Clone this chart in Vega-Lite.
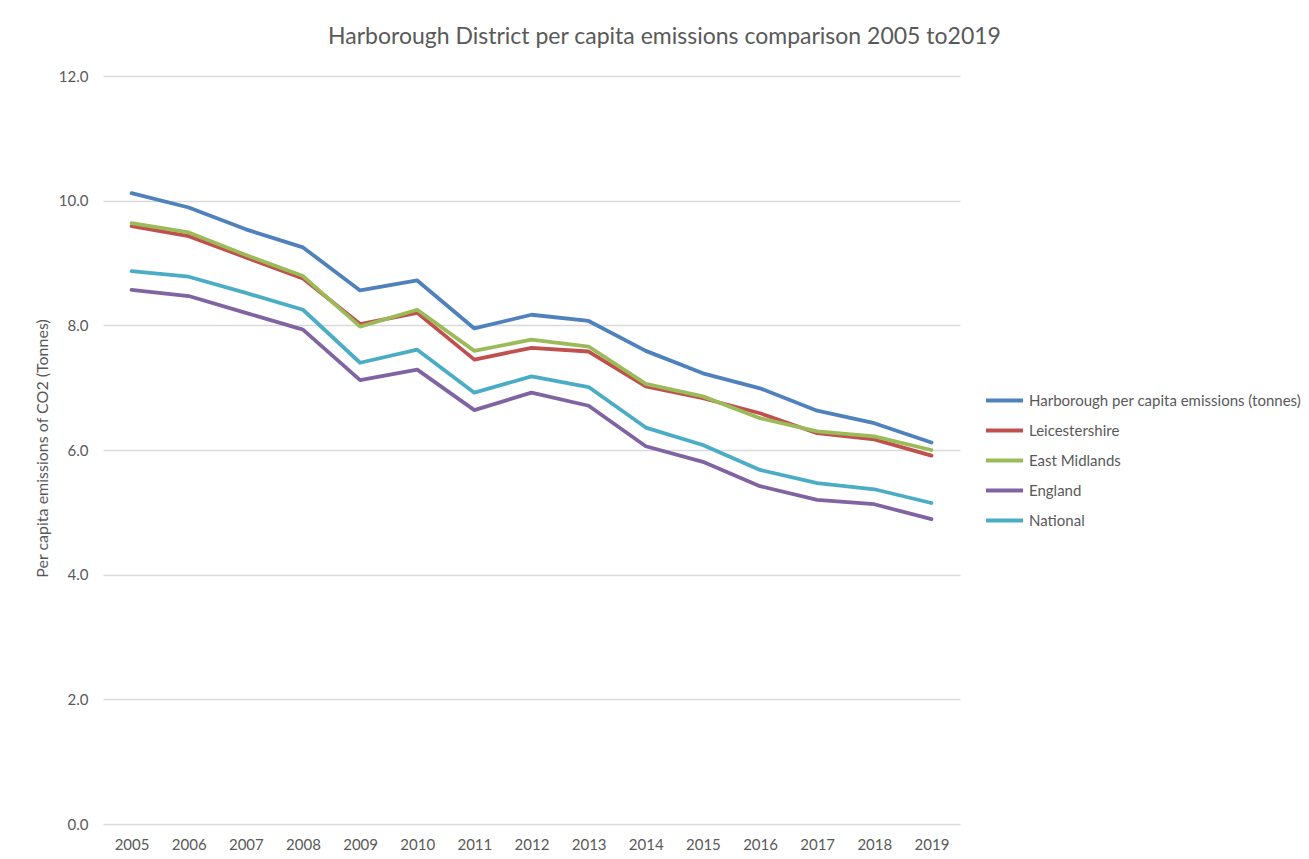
{
  "$schema": "https://vega.github.io/schema/vega-lite/v6.json",
  "width": 857,
  "height": 748,
  "autosize": "none",
  "padding": {"left": 103, "top": 76, "right": 349, "bottom": 35},
  "background": "white",
  "title": {
    "text": "Harborough District per capita emissions comparison 2005 to2019",
    "frame": "group",
    "anchor": "middle",
    "fontSize": 23,
    "fontWeight": "normal",
    "font": "Lato",
    "color": "#595959",
    "offset": 20,
    "dx": 133
  },
  "data": {"values": [
    {"year": "2005", "series": "Harborough per capita emissions (tonnes)", "value": 10.12},
    {"year": "2006", "series": "Harborough per capita emissions (tonnes)", "value": 9.89},
    {"year": "2007", "series": "Harborough per capita emissions (tonnes)", "value": 9.54},
    {"year": "2008", "series": "Harborough per capita emissions (tonnes)", "value": 9.25},
    {"year": "2009", "series": "Harborough per capita emissions (tonnes)", "value": 8.56},
    {"year": "2010", "series": "Harborough per capita emissions (tonnes)", "value": 8.72},
    {"year": "2011", "series": "Harborough per capita emissions (tonnes)", "value": 7.95},
    {"year": "2012", "series": "Harborough per capita emissions (tonnes)", "value": 8.17},
    {"year": "2013", "series": "Harborough per capita emissions (tonnes)", "value": 8.07},
    {"year": "2014", "series": "Harborough per capita emissions (tonnes)", "value": 7.59},
    {"year": "2015", "series": "Harborough per capita emissions (tonnes)", "value": 7.23},
    {"year": "2016", "series": "Harborough per capita emissions (tonnes)", "value": 6.99},
    {"year": "2017", "series": "Harborough per capita emissions (tonnes)", "value": 6.63},
    {"year": "2018", "series": "Harborough per capita emissions (tonnes)", "value": 6.43},
    {"year": "2019", "series": "Harborough per capita emissions (tonnes)", "value": 6.12},
    {"year": "2005", "series": "Leicestershire", "value": 9.59},
    {"year": "2006", "series": "Leicestershire", "value": 9.43},
    {"year": "2007", "series": "Leicestershire", "value": 9.09},
    {"year": "2008", "series": "Leicestershire", "value": 8.75},
    {"year": "2009", "series": "Leicestershire", "value": 8.02},
    {"year": "2010", "series": "Leicestershire", "value": 8.20},
    {"year": "2011", "series": "Leicestershire", "value": 7.45},
    {"year": "2012", "series": "Leicestershire", "value": 7.64},
    {"year": "2013", "series": "Leicestershire", "value": 7.58},
    {"year": "2014", "series": "Leicestershire", "value": 7.02},
    {"year": "2015", "series": "Leicestershire", "value": 6.83},
    {"year": "2016", "series": "Leicestershire", "value": 6.59},
    {"year": "2017", "series": "Leicestershire", "value": 6.27},
    {"year": "2018", "series": "Leicestershire", "value": 6.17},
    {"year": "2019", "series": "Leicestershire", "value": 5.91},
    {"year": "2005", "series": "East Midlands", "value": 9.64},
    {"year": "2006", "series": "East Midlands", "value": 9.49},
    {"year": "2007", "series": "East Midlands", "value": 9.13},
    {"year": "2008", "series": "East Midlands", "value": 8.79},
    {"year": "2009", "series": "East Midlands", "value": 7.98},
    {"year": "2010", "series": "East Midlands", "value": 8.25},
    {"year": "2011", "series": "East Midlands", "value": 7.59},
    {"year": "2012", "series": "East Midlands", "value": 7.77},
    {"year": "2013", "series": "East Midlands", "value": 7.66},
    {"year": "2014", "series": "East Midlands", "value": 7.06},
    {"year": "2015", "series": "East Midlands", "value": 6.86},
    {"year": "2016", "series": "East Midlands", "value": 6.51},
    {"year": "2017", "series": "East Midlands", "value": 6.30},
    {"year": "2018", "series": "East Midlands", "value": 6.22},
    {"year": "2019", "series": "East Midlands", "value": 6.00},
    {"year": "2005", "series": "England", "value": 8.57},
    {"year": "2006", "series": "England", "value": 8.47},
    {"year": "2007", "series": "England", "value": 8.20},
    {"year": "2008", "series": "England", "value": 7.93},
    {"year": "2009", "series": "England", "value": 7.12},
    {"year": "2010", "series": "England", "value": 7.29},
    {"year": "2011", "series": "England", "value": 6.64},
    {"year": "2012", "series": "England", "value": 6.92},
    {"year": "2013", "series": "England", "value": 6.71},
    {"year": "2014", "series": "England", "value": 6.06},
    {"year": "2015", "series": "England", "value": 5.81},
    {"year": "2016", "series": "England", "value": 5.42},
    {"year": "2017", "series": "England", "value": 5.20},
    {"year": "2018", "series": "England", "value": 5.13},
    {"year": "2019", "series": "England", "value": 4.89},
    {"year": "2005", "series": "National", "value": 8.87},
    {"year": "2006", "series": "National", "value": 8.78},
    {"year": "2007", "series": "National", "value": 8.52},
    {"year": "2008", "series": "National", "value": 8.25},
    {"year": "2009", "series": "National", "value": 7.40},
    {"year": "2010", "series": "National", "value": 7.61},
    {"year": "2011", "series": "National", "value": 6.92},
    {"year": "2012", "series": "National", "value": 7.18},
    {"year": "2013", "series": "National", "value": 7.01},
    {"year": "2014", "series": "National", "value": 6.36},
    {"year": "2015", "series": "National", "value": 6.08},
    {"year": "2016", "series": "National", "value": 5.68},
    {"year": "2017", "series": "National", "value": 5.47},
    {"year": "2018", "series": "National", "value": 5.37},
    {"year": "2019", "series": "National", "value": 5.15}
  ]},
  "mark": {"type": "line", "strokeWidth": 3.8, "strokeCap": "round", "strokeJoin": "round"},
  "encoding": {
    "x": {
      "field": "year",
      "type": "ordinal",
      "scale": {"type": "point", "padding": 0.5},
      "axis": {
        "title": null,
        "labelAngle": 0,
        "ticks": false,
        "domain": false,
        "grid": false,
        "labelPadding": 13,
        "labelFontSize": 15,
        "labelFont": "Lato",
        "labelColor": "#595959"
      }
    },
    "y": {
      "field": "value",
      "type": "quantitative",
      "scale": {"domain": [0, 12], "nice": false},
      "axis": {
        "title": "Per capita emissions of CO2 (Tonnes)",
        "values": [0, 2, 4, 6, 8, 10, 12],
        "format": ".1f",
        "ticks": false,
        "domain": false,
        "grid": true,
        "gridColor": "#d9d9d9",
        "gridWidth": 1.3,
        "labelPadding": 15,
        "labelFontSize": 15,
        "labelFont": "Lato",
        "labelColor": "#595959",
        "titleFont": "Lato",
        "titleFontSize": 16,
        "titleFontWeight": "normal",
        "titleColor": "#595959",
        "titleX": -61,
        "titleY": 372,
        "titleAngle": -90,
        "titleBaseline": "middle",
        "titleAlign": "center"
      }
    },
    "color": {
      "field": "series",
      "type": "nominal",
      "scale": {
        "domain": ["Harborough per capita emissions (tonnes)", "Leicestershire", "East Midlands", "England", "National"],
        "range": ["#4F81BD", "#C0504D", "#9BBB59", "#8064A2", "#4BACC6"]
      },
      "legend": {
        "title": null,
        "orient": "none",
        "legendX": 881,
        "legendY": 304,
        "symbolType": "stroke",
        "symbolSize": 1369,
        "symbolStrokeWidth": 4,
        "labelFontSize": 15,
        "labelFont": "Lato",
        "labelColor": "#595959",
        "labelOffset": 4,
        "labelLimit": 400,
        "rowPadding": 1,
        "padding": 0
      }
    }
  },
  "config": {
    "view": {"stroke": null}
  }
}
